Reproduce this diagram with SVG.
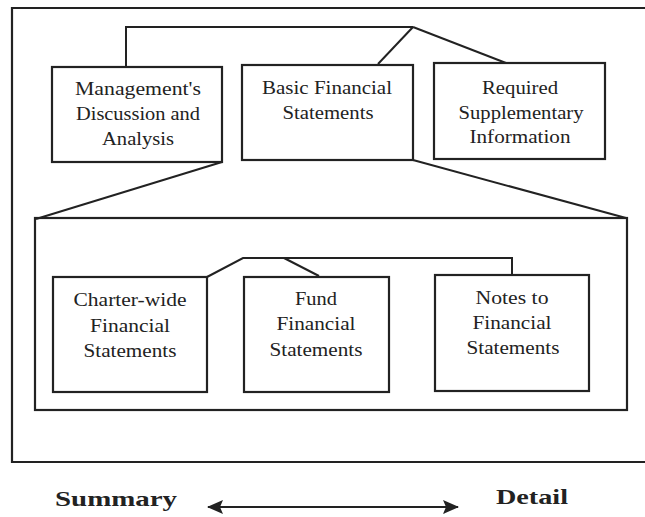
<svg xmlns="http://www.w3.org/2000/svg" width="645" height="517" viewBox="0 0 645 517">
<style>
.b{fill:none;stroke:#222;stroke-width:2.2}
.c{fill:none;stroke:#222;stroke-width:2}
text{font-family:"Liberation Serif","Times New Roman",serif;font-size:18px;fill:#222;text-anchor:middle}
.k{font-weight:bold;font-size:22px;text-anchor:start}
</style>
<defs>
<marker id="ah" viewBox="0 0 16 14" refX="15" refY="7" markerWidth="16" markerHeight="14" markerUnits="userSpaceOnUse" orient="auto-start-reverse">
<path d="M0,0 L16,7 L0,14 L3,7 Z" fill="#222"/>
</marker>
</defs>
<rect width="645" height="517" fill="#fff"/>
<g id="frame"><path class="b" d="M660,8 H12 V462 H660"/></g>
<g id="inner"><rect class="b" x="35" y="218" width="592" height="192"/></g>
<g id="connectors">
<polyline class="c" points="126,67 126,27 413,27"/>
<line class="c" x1="413" y1="27" x2="378" y2="64"/>
<line class="c" x1="413" y1="27" x2="506" y2="63"/>
<line class="c" x1="222" y1="162" x2="36" y2="219"/>
<line class="c" x1="413" y1="160" x2="626" y2="218"/>
<polyline class="c" points="207,277 243,258 512,258 512,275"/>
<line class="c" x1="284" y1="258" x2="319" y2="276"/>
<line class="c" x1="208" y1="507" x2="458" y2="507" marker-start="url(#ah)" marker-end="url(#ah)"/>
</g>
<g id="mda"><rect class="b" x="52" y="67" width="170" height="95"/>
<text x="138" y="95" textLength="126" lengthAdjust="spacingAndGlyphs">Management's</text>
<text x="138" y="120" textLength="124" lengthAdjust="spacingAndGlyphs">Discussion and</text>
<text x="138" y="145" textLength="72" lengthAdjust="spacingAndGlyphs">Analysis</text></g>
<g id="bfs"><rect class="b" x="242" y="65" width="171" height="95"/>
<text x="327" y="94" textLength="130" lengthAdjust="spacingAndGlyphs">Basic Financial</text>
<text x="328" y="119" textLength="91" lengthAdjust="spacingAndGlyphs">Statements</text></g>
<g id="rsi"><rect class="b" x="434" y="63" width="171" height="96"/>
<text x="520" y="94" textLength="76" lengthAdjust="spacingAndGlyphs">Required</text>
<text x="521" y="119" textLength="125" lengthAdjust="spacingAndGlyphs">Supplementary</text>
<text x="520" y="143" textLength="101" lengthAdjust="spacingAndGlyphs">Information</text></g>
<g id="charter"><rect class="b" x="53" y="277" width="154" height="115"/>
<text x="130" y="306" textLength="113" lengthAdjust="spacingAndGlyphs">Charter-wide</text>
<text x="130" y="332" textLength="80" lengthAdjust="spacingAndGlyphs">Financial</text>
<text x="130" y="357" textLength="93" lengthAdjust="spacingAndGlyphs">Statements</text></g>
<g id="fund"><rect class="b" x="244" y="277" width="145" height="115"/>
<text x="316" y="305" textLength="42" lengthAdjust="spacingAndGlyphs">Fund</text>
<text x="316" y="330" textLength="79" lengthAdjust="spacingAndGlyphs">Financial</text>
<text x="316" y="356" textLength="93" lengthAdjust="spacingAndGlyphs">Statements</text></g>
<g id="notes"><rect class="b" x="435" y="275" width="154" height="116"/>
<text x="512" y="304" textLength="73" lengthAdjust="spacingAndGlyphs">Notes to</text>
<text x="512" y="329" textLength="79" lengthAdjust="spacingAndGlyphs">Financial</text>
<text x="513" y="354" textLength="93" lengthAdjust="spacingAndGlyphs">Statements</text></g>
<g id="legend">
<text class="k" x="55" y="506" textLength="122" lengthAdjust="spacingAndGlyphs">Summary</text>
<text class="k" x="496" y="504" textLength="72" lengthAdjust="spacingAndGlyphs">Detail</text>
</g>
</svg>
